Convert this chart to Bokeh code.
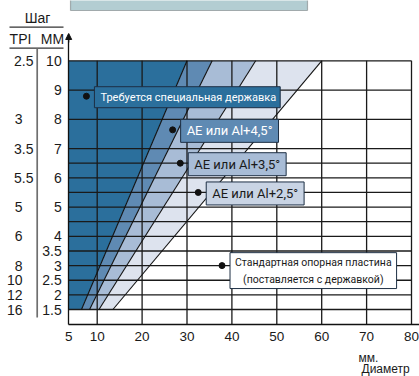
from bokeh.plotting import figure
from bokeh.models import (FixedTicker, Label, BoxAnnotation,
                          Arrow, NormalHead, Range1d)
from bokeh.embed import file_html
from bokeh.resources import INLINE

# ---------------- data ----------------
mm_ticks = [10, 9, 8, 7, 6, 5, 4, 3.5, 3, 2.5, 2, 1.5]
tpi_labels = ["2.5", "", "3", "3.5", "5.5", "5", "6", "", "8", "10", "12", "16"]
grid_pitch = [10, 9, 8, 7, 6.5, 6, 5.5, 5, 4.5, 4, 3.5, 3, 2.5, 2, 1.5]
dia_ticks = [10, 20, 30, 40, 50, 60, 70, 80]
dia_axis_start = 3.65
dia_axis_start_label = "5"
pitch_axis_start = 0.99
pitch_min, pitch_max = 1.5, 10
# boundaries of the zones: diameter at pitch_min and at pitch_max
band_bottom_dia = [6.5, 8.3, 10.4, 13.5]
band_top_dia = [30, 35.6, 45.3, 60]
band_colors = ["#2b6f9c", "#5f8ab3", "#a8bcd6", "#dde3ee"]
callout_text = ["Требуется специальная державка",
                "AE или Al+4,5°",
                "AE или Al+3,5°",
                "AE или Al+2,5°",
                "Стандартная опорная пластина\n(поставляется с державкой)"]
callout_dia = [7.6, 26.8, 28.5, 32.5, 37.8]
callout_pitch = [8.79, 7.64, 6.5, 5.5, 3.0]
callout_fill = ["#2b6f9c", "#5f8ab3", "#a8bcd6", "#c9d4e4", "#ffffff"]
callout_color = ["#ffffff", "#ffffff", "#1a1a1a", "#1a1a1a", "#1a1a1a"]

FONT = "Liberation Sans"
NARROW = "Roboto"

# ---------------- layout (frame = whole canvas, axes at fixed locations) ----------------
W, H = 419, 376
X10_PX, X80_PX = 96.7, 411.0      # page pixels of diameter 10 and 80
Y10_PX, Y15_PX = 60.3, 309.0      # page pixels of pitch 10 and 1.5
xk = (X80_PX - X10_PX) / 70.0
yk = (Y15_PX - Y10_PX) / 8.5

def sx(px):   # page x pixel -> data x
    return 10 + (px - X10_PX) / xk

def sy(py):   # page y pixel -> data y
    return 10 - (py - Y10_PX) / yk

p = figure(width=W, height=H, output_backend="svg", toolbar_location=None,
           x_range=Range1d(sx(0), sx(W)), y_range=Range1d(sy(H), sy(0)),
           min_border=0, min_border_left=0, min_border_right=0,
           min_border_top=0, min_border_bottom=0)
p.outline_line_color = None
p.xgrid.visible = False
p.ygrid.visible = False
p.background_fill_color = "white"
p.border_fill_color = "white"

# ---------------- zones ----------------
xs, ys = [], []
lefts_b = [dia_axis_start] + band_bottom_dia[:-1]
lefts_t = [dia_axis_start] + band_top_dia[:-1]
for i in range(len(band_bottom_dia)):
    xs.append([lefts_b[i], band_bottom_dia[i], band_top_dia[i], lefts_t[i]])
    ys.append([pitch_min, pitch_min, pitch_max, pitch_max])
p.patches(xs, ys, fill_color=band_colors, line_color=None)

# grid lines drawn on top of the zones
n = len(grid_pitch)
p.segment(x0=[dia_axis_start] * n, x1=[dia_ticks[-1]] * n,
          y0=grid_pitch, y1=grid_pitch, line_color="#1a1a1a", line_width=1.3)
m = len(dia_ticks)
p.segment(x0=dia_ticks, x1=dia_ticks, y0=[pitch_axis_start] * m,
          y1=[pitch_max] * m, line_color="#1a1a1a", line_width=1.3)
# zone boundaries
k = len(band_bottom_dia)
p.segment(x0=band_bottom_dia, y0=[pitch_min] * k, x1=band_top_dia, y1=[pitch_max] * k,
          line_color="#111111", line_width=1.1)

# callouts
p.scatter(callout_dia, callout_pitch, size=6, color="#111111")
for i, (t, xd, yd, fc, tc) in enumerate(zip(callout_text, callout_dia, callout_pitch,
                                            callout_fill, callout_color)):
    multi = "\n" in t
    size = "10.5px" if multi else ("11px" if i == 0 else "13px")
    if multi:
        pad = dict(left=5, right=5, top=3, bottom=3)
    elif i == 0:
        pad = dict(left=6, right=4, top=4, bottom=4)
    else:
        pad = dict(left=6, right=6, top=4, bottom=4)
    lab = Label(x=xd, y=yd, x_offset=8, y_offset=(-5 if multi else -1), text=t,
                anchor="center_left", text_align=("center" if multi else "left"),
                text_baseline="middle",
                text_font=NARROW, text_font_size=size,
                text_color=tc, background_fill_color=fc,
                border_line_color="#1d2f44", border_line_width=1,
                padding=pad, text_line_height=(1.3 if multi else 1.15))
    p.add_layout(lab)

# ---------------- axes ----------------
p.xaxis.fixed_location = pitch_axis_start
p.yaxis.fixed_location = dia_axis_start
p.xaxis.bounds = (dia_axis_start, sx(W))
p.yaxis.bounds = (pitch_axis_start, sy(34))
p.xaxis.ticker = FixedTicker(ticks=[dia_axis_start] + dia_ticks)
p.xaxis.major_label_overrides = {dia_axis_start: dia_axis_start_label}
p.yaxis.ticker = FixedTicker(ticks=mm_ticks)
for ax in (p.xaxis, p.yaxis):
    ax.major_tick_out = 0
    ax.major_tick_in = 0
    ax.minor_tick_out = 0
    ax.minor_tick_in = 0
    ax.axis_line_color = "#111111"
    ax.axis_line_width = 1.3
    ax.major_label_text_font = FONT
    ax.major_label_text_color = "#1a1a1a"
p.xaxis.major_label_text_font_size = "13.5px"
p.yaxis.major_label_text_font_size = "14px"
p.xaxis.major_label_standoff = 8
p.yaxis.major_label_standoff = 7

# arrow at the top of the pitch axis
p.add_layout(Arrow(end=NormalHead(size=6, fill_color="#111111", line_color="#111111"),
                   x_start=dia_axis_start, y_start=sy(42), x_end=dia_axis_start, y_end=sy(33),
                   line_color="#111111", line_width=1.2))

# ---------------- pitch table on the left ----------------
for t, mm in zip(tpi_labels, mm_ticks):
    if not t:
        continue
    dec = "." in t
    p.add_layout(Label(x=sx(13.5 if dec else 22), y=mm, text=t,
                       text_align=("left" if dec else "right"), text_baseline="middle",
                       text_font=FONT, text_font_size="14px", text_color="#1a1a1a"))
for t, cx, cy in (("Шаг", 37, 17.5), ("TPI", 20, 38.5), ("ММ", 52, 38.5)):
    p.add_layout(Label(x=sx(cx), y=sy(cy), text=t, text_align="center", text_baseline="middle",
                       text_font=FONT, text_font_size="14px", text_color="#1a1a1a"))
for yy in (26.7, 47.7):
    p.line([sx(9), sx(63)], [sy(yy), sy(yy)], line_color="#333333", line_width=1.2)
p.line([sx(36.7), sx(36.7)], [sy(48), sy(317)], line_color="#6f6f6f", line_width=1.7)

# axis caption
p.add_layout(Label(x=sx(358), y=sy(357), text="мм.", text_align="left", text_baseline="middle",
                   text_font=FONT, text_font_size="12px", text_color="#1a1a1a"))
p.add_layout(Label(x=sx(361), y=sy(368), text="Диаметр", text_align="left", text_baseline="middle",
                   text_font=FONT, text_font_size="12px", text_color="#1a1a1a"))

# cut-off box at the very top
p.add_layout(BoxAnnotation(left=sx(70), right=sx(307), bottom=sy(10), top=sy(-20),
                           fill_color="#b3cdd2", fill_alpha=1, line_color="#222222", line_width=1.2))

open("out.html", "w").write(file_html(p, INLINE))
